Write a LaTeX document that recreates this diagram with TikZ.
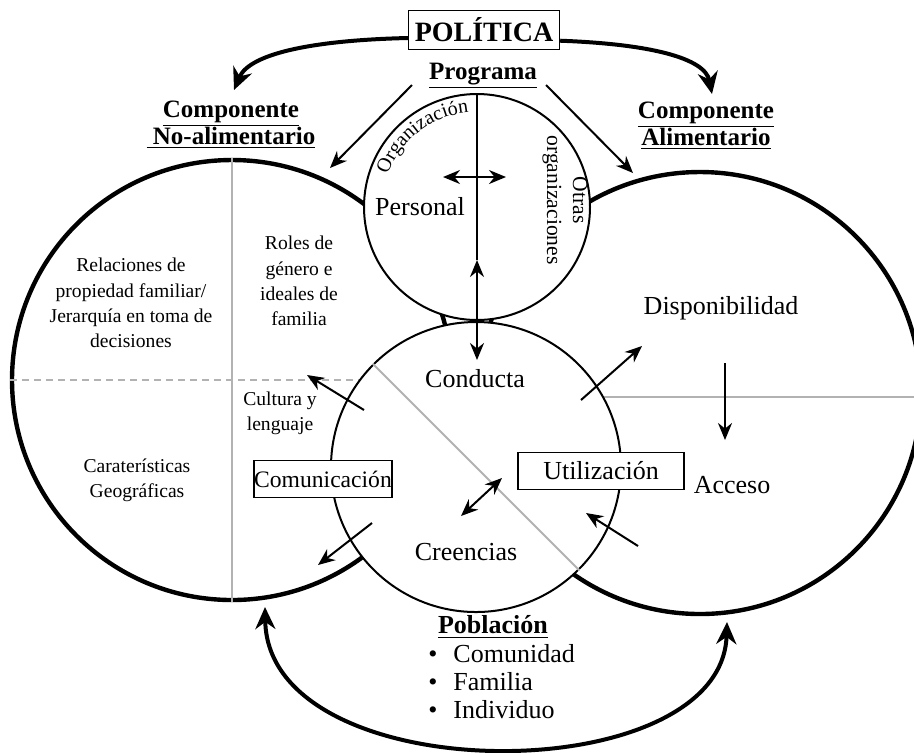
\documentclass[tikz,border=0pt]{standalone}
\usepackage{fontspec}
\setmainfont{Liberation Serif}
\usetikzlibrary{arrows.meta, shapes, positioning, decorations.text}

\tikzset{
	bigcirc/.style={draw, circle, inner sep=0pt, line width=2.2pt},
	smallcirc/.style={draw, circle, inner sep=0pt, line width=1pt, fill=white},
	divline/.style={draw=gray!60, line width=0.9pt},
	lbl/.style={inner sep=0pt, align=center, font=\fontsize{13}{15}\selectfont},
	note/.style={inner sep=0pt, align=center, font=\fontsize{9.8}{12.6}\selectfont},
	hdr/.style={inner sep=0pt, align=center, font=\fontsize{12.5}{13.5}\selectfont\bfseries},
	boxed/.style={draw, fill=white, line width=0.7pt, inner sep=0pt, minimum height=18.5pt, font=\fontsize{13}{15}\selectfont},
	arr/.style={->, line width=1pt},
	bigarr/.style={->, >={Stealth[length=11pt,width=10pt]}, line width=2pt},
}

\begin{document}
\begin{tikzpicture}[x=0.5pt, y=-0.5pt, >={Stealth[length=8.5pt,width=7pt]}]
	\clip (0,0) rectangle (914,752);

	% circles %
	\node[bigcirc, minimum size=220pt] (nonfood) at (232,380) {};
	\node[bigcirc, minimum size=221pt] (food) at (700,393) {};
	\draw[divline] (nonfood.north) -- (nonfood.south);
	\draw[divline, dash pattern=on 3.5pt off 2.5pt] (nonfood.west) -- (nonfood.east);
	\draw[divline] ([yshift=-2pt]food.west) -- ([yshift=-2pt]food.east);
	\node[smallcirc, minimum size=113pt] (prog) at (477,207) {};
	\node[smallcirc, minimum size=145pt] (mid) at (476,467) {};
	\draw[divline] (mid.135) -- (mid.-45);

	% labels %
	\node[boxed, minimum width=75.5pt, minimum height=19.5pt, font=\fontsize{14}{16}\selectfont\bfseries] (pol) at (484,30) {POLÍTICA};
	\node[hdr] (programa) at (483,76) {\underline{Programa}};
	\node[hdr] (nfhead) at (231,125) {\underline{Componente}\\\underline{\ No-alimentario}};
	\node[hdr] (fhead) at (706,126) {\underline{Componente}\\\underline{Alimentario}};
	\path[decorate, decoration={text along path, text align=center,
		text={|\fontsize{10}{12}\selectfont|Organización}}]
		([shift={(prog.center)}]163:47.5pt) arc[start angle=163, end angle=92, radius=47.5pt];
	\node[inner sep=0pt, rotate=-90, align=center, font=\fontsize{10.8}{13}\selectfont] (otras) at (565,200) {Otras\\organizaciones};
	\node[lbl] (personal) at (420,207) {Personal};
	\node[note] (relac) at (131,303) {Relaciones de\\propiedad familiar/\\Jerarquía en toma de\\decisiones};
	\node[note] (roles) at (299,281) {Roles de\\género e\\ideales de\\familia};
	\node[note] (cult) at (280,413) {Cultura y\\lenguaje};
	\node[note] (geo) at (137,480) {Caraterísticas\\Geográficas};
	\node[boxed, minimum width=69pt, font=\fontsize{11.8}{14}\selectfont] (comu) at (323,479) {Comunicación};
	\node[boxed, minimum width=83pt] (util) at (601,471) {Utilización};
	\node[lbl] (cond) at (475,379) {Conducta};
	\node[lbl] (cree) at (466,552) {Creencias};
	\node[lbl] (disp) at (721,308) {Disponibilidad};
	\node[lbl] (acc) at (732,485) {Acceso};
	\node[hdr, font=\fontsize{13}{14}\selectfont\bfseries] (pob) at (493,627) {\underline{Población}};
	\node[inner sep=0pt, anchor=west, align=left, font=\fontsize{13}{14}\selectfont] (niveles) at (428,682)
		{\textbullet\hspace{8pt}Comunidad\\\textbullet\hspace{8pt}Familia\\\textbullet\hspace{8pt}Individuo};

	% edges %
	\coordinate (pl) at (412,85);
	\coordinate (pr) at (546,85);
	\coordinate (nftip) at (330,168);
	\coordinate (ftip) at (633,173);
	\coordinate (hl) at (443,177);
	\coordinate (hr) at (506,177);
	\coordinate (vup) at (477,260);
	\coordinate (vdn) at (477,360);
	\draw[arr] (pl) -- (nftip);
	\draw[arr] (pr) -- (ftip);
	\draw[line width=1pt] (prog.north) -- (vup);
	\draw[arr, <->] (vup) -- (vdn);
	\draw[arr, <->] (hl) -- (hr);

	\coordinate (c1) at (364,410);
	\coordinate (c2) at (307,375);
	\coordinate (c3) at (372,523);
	\coordinate (c4) at (318,565);
	\coordinate (c5) at (581,400);
	\coordinate (c6) at (642,346);
	\coordinate (c7) at (638,546);
	\coordinate (c8) at (586,513);
	\coordinate (c9) at (725,363);
	\coordinate (c10) at (725,440);
	\coordinate (c11) at (461,516);
	\coordinate (c12) at (502,478);
	\draw[arr] (c1) -- (c2);
	\draw[arr] (c3) -- (c4);
	\draw[arr] (c5) -- (c6);
	\draw[arr] (c7) -- (c8);
	\draw[arr] (c9) -- (c10);
	\draw[arr, <->] (c11) -- (c12);

	\coordinate (nfend) at (234,90);
	\coordinate (fend) at (712,94);
	\coordinate (bl) at (265,607);
	\coordinate (br) at (727,622);
	\draw[bigarr] (pol.186) .. controls (320,40) and (250,52) .. (nfend);
	\draw[bigarr] (pol.352) .. controls (650,44) and (705,58) .. (fend);
	\draw[bigarr, <->] (bl) .. controls (268,792) and (722,792) .. (br);
\end{tikzpicture}
\end{document}
